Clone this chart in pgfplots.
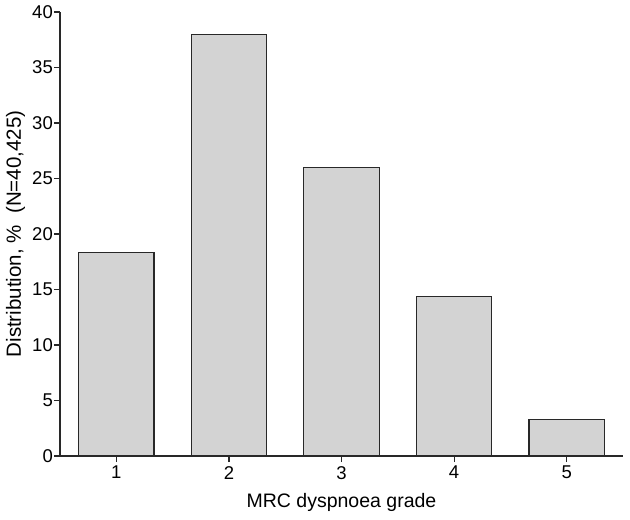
\documentclass[border=0pt]{standalone}
\usepackage{fontspec}
\setmainfont{Liberation Sans}
\usepackage{pgfplots}
\pgfplotsset{compat=1.18}
\usetikzlibrary{calc}
\definecolor{barfill}{RGB}{211,211,211}
\definecolor{edge}{RGB}{40,40,40}
\newcommand{\tickfont}{\fontsize{18.5}{21}\selectfont}
\begin{document}
\begin{tikzpicture}
\begin{axis}[
    scale only axis,
    width=563pt, height=444pt,
    xmin=0.5, xmax=5.5,
    ymin=0, ymax=40,
    axis x line*=bottom,
    axis y line*=left,
    axis line style={edge, line width=1.2pt},
    tick style={edge, line width=1.2pt},
    tick align=outside,
    major tick length=6pt,
    xtick={1,2,3,4,5},
    ytick={0,5,10,15,20,25,30,35,40},
    xticklabels={{\tickfont 1},{\tickfont 2},{\tickfont 3},{\tickfont 4},{\tickfont 5}},
    yticklabels={{\tickfont 0},{\tickfont 5},{\tickfont 10},{\tickfont 15},{\tickfont 20},{\tickfont 25},{\tickfont 30},{\tickfont 35},{\tickfont 40}},
    xticklabel style={inner ysep=4pt},
    yticklabel style={inner xsep=1pt},
    xlabel style={font=\fontsize{19.5}{23}\selectfont},
    ylabel style={font=\fontsize{20.5}{24}\selectfont},
    xlabel={MRC dyspnoea grade},
    ylabel={Distribution, \%~~(N=40,425)},
    ylabel style={at={(axis description cs:-0.0693,0.5)}, anchor=base},
    xlabel style={at={(axis description cs:0.5,-0.117)}, anchor=base},
    clip=false,
]
\addplot[ybar, bar width=0.67, fill=barfill, draw=edge, line width=1.1pt]
coordinates {(1,18.3) (2,38.0) (3,26.0) (4,14.4) (5,3.25)};
\coordinate (sw) at (rel axis cs:0,0);
\coordinate (ne) at (rel axis cs:1,1);
\end{axis}
\path ($(sw)+(-60pt,-63pt)$) rectangle ($(ne)+(7pt,12pt)$);
\end{tikzpicture}
\end{document}
